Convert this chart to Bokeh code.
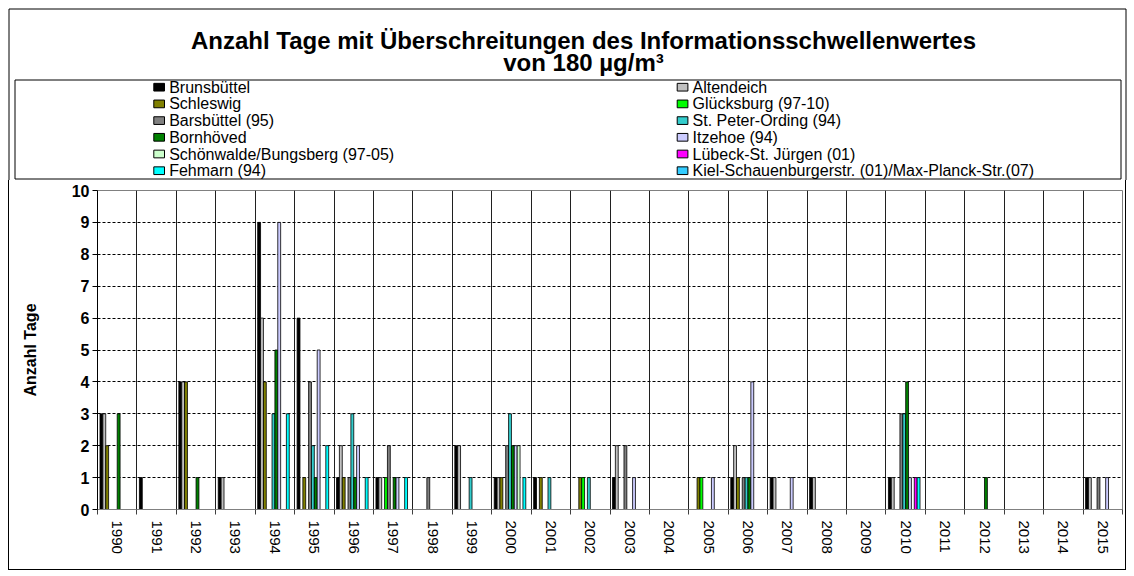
from bokeh.plotting import figure
from bokeh.models import Range1d, FixedTicker, ColumnDataSource, InlineStyleSheet
from bokeh.core.properties import value
from bokeh.embed import file_html
from bokeh.resources import INLINE

years = [str(y) for y in range(1990, 2016)]

names = ["Brunsbüttel", "Altendeich", "Schleswig", "Glücksburg (97-10)",
         "Barsbüttel (95)", "St. Peter-Ording (94)", "Bornhöved", "Itzehoe (94)",
         "Schönwalde/Bungsberg (97-05)", "Lübeck-St. Jürgen (01)", "Fehmarn (94)",
         "Kiel-Schauenburgerstr. (01)/Max-Planck-Str.(07)"]

colors = ["#000000", "#C0C0C0", "#808000", "#00FF00", "#808080", "#33CCCC",
          "#008000", "#CCCCFF", "#CCFFCC", "#FF00FF", "#00FFFF", "#33CCFF"]

#               1990          1995          2000          2005          2010          2015
brunsbuettel = [3, 1, 4, 1, 9, 6, 1, 1, 0, 2, 1, 1, 0, 1, 0, 0, 1, 1, 1, 0, 1, 0, 0, 0, 0, 1]
altendeich   = [3, 0, 4, 1, 6, 0, 2, 1, 0, 2, 1, 0, 0, 2, 0, 0, 2, 1, 1, 0, 1, 0, 0, 0, 0, 1]
schleswig    = [2, 0, 4, 0, 4, 1, 1, 0, 0, 0, 1, 1, 1, 0, 0, 1, 1, 0, 0, 0, 0, 0, 0, 0, 0, 0]
gluecksburg  = [0, 0, 0, 0, 0, 0, 0, 1, 0, 0, 0, 0, 1, 0, 0, 1, 0, 0, 0, 0, 0, 0, 0, 0, 0, 0]
barsbuettel  = [0, 0, 0, 0, 0, 4, 1, 2, 1, 0, 2, 0, 0, 2, 0, 0, 1, 0, 0, 0, 3, 0, 0, 0, 0, 1]
st_peter     = [0, 0, 0, 0, 3, 2, 3, 0, 0, 1, 3, 1, 1, 0, 0, 0, 1, 0, 0, 0, 3, 0, 0, 0, 0, 0]
bornhoeved   = [3, 0, 1, 0, 5, 1, 1, 1, 0, 0, 2, 0, 0, 0, 0, 0, 1, 0, 0, 0, 4, 0, 1, 0, 0, 0]
itzehoe      = [0, 0, 0, 0, 9, 5, 2, 1, 0, 0, 2, 0, 0, 1, 0, 1, 4, 1, 0, 0, 1, 0, 0, 0, 0, 1]
schoenwalde  = [0, 0, 0, 0, 0, 0, 0, 0, 0, 0, 2, 0, 0, 0, 0, 0, 0, 0, 0, 0, 0, 0, 0, 0, 0, 0]
luebeck      = [0, 0, 0, 0, 0, 0, 0, 0, 0, 0, 0, 0, 0, 0, 0, 0, 0, 0, 0, 0, 1, 0, 0, 0, 0, 0]
fehmarn      = [0, 0, 0, 0, 3, 2, 1, 1, 0, 0, 1, 0, 0, 0, 0, 0, 0, 0, 0, 0, 1, 0, 0, 0, 0, 0]
kiel         = [0, 0, 0, 0, 0, 0, 0, 0, 0, 0, 0, 0, 0, 0, 0, 0, 0, 0, 0, 0, 0, 0, 0, 0, 0, 0]

series = [brunsbuettel, altendeich, schleswig, gluecksburg, barsbuettel, st_peter,
          bornhoeved, itzehoe, schoenwalde, luebeck, fehmarn, kiel]

title_lines = ["Anzahl Tage mit Überschreitungen des Informationsschwellenwertes",
               "von 180 µg/m³"]

FONT = "Liberation Sans"
W = 1134
HEAD_H = 180
CHART_H = 396
n_years = len(years)
n_ser = len(series)
bw = 0.0728  # width of one bar slot (in year units)

# ---------------- header: title + legend (pixel coordinates) ----------------
head = figure(width=W, height=HEAD_H, output_backend="svg", toolbar_location=None,
              x_range=Range1d(0, W), y_range=Range1d(HEAD_H, 0),
              x_axis_type=None, y_axis_type=None,
              min_border=0, min_border_left=0, min_border_right=0,
              min_border_top=0, min_border_bottom=0)
head.outline_line_color = None
head.background_fill_color = "white"
head.border_fill_color = "white"

# outer chart border (upper part)
head.segment(x0=[8.5, 8.5, 1125.5], y0=[8.5, 8.5, 8.5],
             x1=[1125.5, 8.5, 1125.5], y1=[8.5, HEAD_H, HEAD_H],
             line_color="black", line_width=1)

head.text(x=[583, 583], y=[40, 62], text=title_lines,
          text_font=value(FONT), text_font_size=value("24px"),
          text_font_style="bold", text_align="center", text_baseline="middle",
          text_color="black")

# legend frame
head.quad(left=[14.5], right=[1120.5], top=[79.5], bottom=[178.5],
          fill_alpha=0, line_color="black", line_width=1)

# legend entries, two columns filled row by row
col_x = [153.3, 676.7]
row_y0, row_dy = 86.7, 16.7
lx = [col_x[k % 2] + 5.35 for k in range(n_ser)]
ly = [row_y0 + row_dy * (k // 2) for k in range(n_ser)]
leg = ColumnDataSource(dict(x=lx, y=ly, tx=[x + 10 for x in lx], name=names, color=colors))
head.rect(x="x", y="y", width=10.7, height=7.7, source=leg,
          fill_color="color", line_color="black", line_width=1)
head.text(x="tx", y="y", text="name", source=leg,
          text_font=value(FONT), text_font_size=value("16px"),
          text_baseline="middle", text_align="left", text_color="black")

# ---------------- chart ----------------
p = figure(width=W, height=CHART_H, output_backend="svg", toolbar_location=None,
           x_range=Range1d(0, n_years), y_range=Range1d(0, 10),
           min_border_left=97, min_border_right=12, min_border_top=10,
           min_border_bottom=67)
p.background_fill_color = "white"
p.outline_line_color = "#808080"
p.outline_line_width = 1

# outer chart border (lower part), drawn as a CSS overlay
p.stylesheets = [InlineStyleSheet(css="""
:host { position: relative; }
:host::after {
  content: ""; position: absolute; left: 8px; top: 0px; width: 1118px; height: 390px;
  border-left: 1px solid black; border-right: 1px solid black; border-bottom: 1px solid black;
  box-sizing: border-box; pointer-events: none; z-index: 100;
}
""")]

centers = [i + 0.5 for i in range(n_years)]
bounds = list(range(n_years + 1))

xa = p.xaxis[0]
xa.ticker = FixedTicker(ticks=centers, minor_ticks=bounds)
xa.major_label_overrides = {c: y for c, y in zip(centers, years)}
xa.major_label_orientation = "vertical"
xa.major_tick_line_color = None
xa.major_tick_out = 0
xa.major_tick_in = 0
xa.minor_tick_out = 5
xa.minor_tick_in = 0
xa.minor_tick_line_color = "#404040"
xa.major_label_standoff = 6
xa.major_label_text_font = FONT
xa.major_label_text_font_size = "15px"
xa.major_label_text_color = "black"
xa.axis_line_color = "#808080"

ya = p.yaxis[0]
ya.ticker = FixedTicker(ticks=list(range(11)))
ya.minor_tick_line_color = None
ya.major_tick_out = 5
ya.major_tick_in = 0
ya.major_tick_line_color = "black"
ya.axis_line_color = "black"
ya.major_label_standoff = 3
ya.major_label_text_font = FONT
ya.major_label_text_font_size = "16px"
ya.major_label_text_font_style = "bold"
ya.major_label_text_color = "black"
ya.axis_label = "Anzahl Tage"
ya.axis_label_text_font = FONT
ya.axis_label_text_font_size = "16px"
ya.axis_label_text_font_style = "bold"
ya.axis_label_text_color = "black"
ya.axis_label_standoff = 30

p.xgrid[0].ticker = FixedTicker(ticks=bounds)
p.xgrid[0].grid_line_color = "#202020"
p.xgrid[0].grid_line_width = 1
p.ygrid[0].ticker = FixedTicker(ticks=list(range(1, 10)))
p.ygrid[0].grid_line_color = "black"
p.ygrid[0].grid_line_dash = "3 2"
p.ygrid[0].grid_line_width = 1

for k, (vals, col) in enumerate(zip(series, colors)):
    xs = [i + 0.5 + (k - (n_ser - 1) / 2) * bw for i, v in enumerate(vals) if v > 0]
    tops = [v for v in vals if v > 0]
    src = ColumnDataSource(dict(x=xs, top=tops))
    p.vbar(x="x", top="top", bottom=0, width=bw, source=src,
           fill_color=col, line_color="black", line_width=0.8)

open("out.html", "w").write(file_html([head, p], INLINE))
